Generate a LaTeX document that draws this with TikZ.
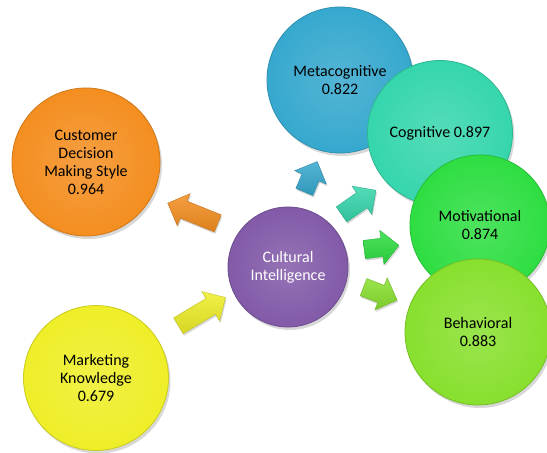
\documentclass[tikz,border=0pt]{standalone}
\usepackage{xcolor}
\usepackage{fontspec}
\setmainfont{Carlito}
\usetikzlibrary{shapes.arrows,shadows}

\definecolor{cdmorange}{RGB}{244,142,32}
\definecolor{mkyellow}{RGB}{238,238,40}
\definecolor{civiolet}{RGB}{130,90,168}
\definecolor{metablue}{RGB}{54,168,206}
\definecolor{cogteal}{RGB}{54,214,172}
\definecolor{motgreen}{RGB}{46,222,66}
\definecolor{behlime}{RGB}{136,224,46}

\tikzset{
  bubble/.style 2 args={circle,minimum size=#2,inner sep=0pt,align=center,
    inner color=#1!85!white,outer color=#1,draw=#1!85!black,line width=0.8pt,
    font=\fontsize{16}{18}\selectfont,
    drop shadow={opacity=0.3,shadow xshift=2pt,shadow yshift=-3pt}},
  pointer/.style={single arrow,inner sep=9pt,single arrow head extend=8pt,
    draw=#1!80!black,top color=#1!85!white,bottom color=#1!90!black,
    drop shadow={opacity=0.3,shadow xshift=1pt,shadow yshift=-2pt}}
}

\begin{document}
\begin{tikzpicture}[x=1pt,y=1pt]
\useasboundingbox[fill=white] (0,0) rectangle (547,453);

\node[bubble={cdmorange}{148pt}](cdm) at (86,291){Customer\\Decision\\Making Style\\0.964};
\node[bubble={mkyellow}{145pt}](mk) at (96,75){Marketing\\Knowledge\\0.679};
\node[bubble={civiolet}{120pt},text=white](ci) at (288,186){Cultural\\Intelligence};

\node[bubble={metablue}{146pt}](meta) at (340,373){Metacognitive\\0.822};
\node[bubble={cogteal}{145pt}](cog) at (440,320){Cognitive 0.897};
\node[bubble={motgreen}{140pt}](mot) at (480,228){Motivational\\0.874};
\node[bubble={behlime}{146pt}](beh) at (478,121){Behavioral\\0.883};

\node[pointer=cdmorange,minimum height=54pt,rotate=158](p1) at (197,238){};
\node[pointer=mkyellow,minimum height=55pt,rotate=31](p2) at (198,139){};
\node[pointer=metablue,minimum height=33pt,rotate=67](p3) at (309,272){};
\node[pointer=cogteal,minimum height=42pt,rotate=35](p4) at (355,248){};
\node[pointer=motgreen,minimum height=35pt,rotate=7](p5) at (377,205){};
\node[pointer=behlime,minimum height=36pt,rotate=-21](p6) at (376,161){};

\end{tikzpicture}
\end{document}
